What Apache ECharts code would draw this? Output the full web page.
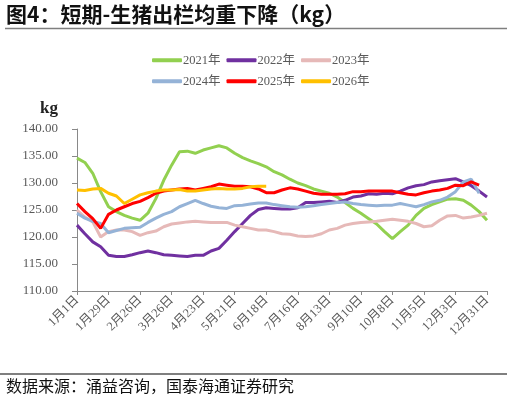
<!DOCTYPE html>
<html>
<head>
<meta charset="utf-8">
<script src="https://cdn.jsdelivr.net/npm/echarts@6/dist/echarts.min.js"></script>
<style>
  html, body { margin: 0; padding: 0; background: #fff; }
  #chart { width: 512px; height: 401px; }
</style>
</head>
<body>
<div id="chart"></div>
<script>
// weekly dates, Jan 1 .. Dec 31
const weeks = [
  '1月1日', '1月8日', '1月15日', '1月22日', '1月29日', '2月5日', '2月12日', '2月19日', '2月26日',
  '3月5日', '3月12日', '3月19日', '3月26日', '4月2日', '4月9日', '4月16日', '4月23日', '4月30日',
  '5月7日', '5月14日', '5月21日', '5月28日', '6月4日', '6月11日', '6月18日', '6月25日',
  '7月2日', '7月9日', '7月16日', '7月23日', '7月30日', '8月6日', '8月13日', '8月20日', '8月27日',
  '9月3日', '9月10日', '9月17日', '9月24日', '10月1日', '10月8日', '10月15日', '10月22日', '10月29日',
  '11月5日', '11月12日', '11月19日', '11月26日', '12月3日', '12月10日', '12月17日', '12月24日', '12月31日'
];

const w2021 = [134.6, 133.8, 131.8, 128.4, 125.6, 124.7, 124.0, 123.5, 123.1, 124.4, 127.1, 130.5, 133.3,
  135.8, 135.9, 135.5, 136.1, 136.5, 136.9, 136.5, 135.5, 134.7, 134.1, 133.6, 133.0, 132.1,
  131.5, 130.7, 130.0, 129.5, 128.9, 128.5, 128.1, 127.4, 126.4, 125.3, 124.4, 123.4, 122.4,
  121.0, 119.7, 121.0, 122.2, 124.0, 125.3, 126.0, 126.5, 127.0, 127.1, 126.8, 125.9, 124.7, 123.1];
const w2022 = [122.2, 120.6, 119.1, 118.2, 116.6, 116.4, 116.4, 116.7, 117.1, 117.4, 117.1, 116.7, 116.6,
  116.5, 116.4, 116.6, 116.6, 117.4, 117.9, 119.4, 121.0, 122.5, 124.0, 125.1, 125.4, 125.3,
  125.2, 125.2, 125.4, 126.4, 126.4, 126.5, 126.6, 126.4, 126.8, 127.4, 127.6, 128.0, 127.9,
  128.1, 128.0, 128.5, 129.1, 129.5, 129.7, 130.2, 130.4, 130.6, 130.8, 130.2, 129.5, 128.5, 127.4];
const w2023 = [125.0, 123.7, 122.8, 120.0, 121.0, 121.3, 121.3, 121.0, 120.3, 120.8, 121.1, 121.9, 122.4,
  122.6, 122.8, 122.9, 122.8, 122.7, 122.7, 122.7, 122.2, 121.9, 121.6, 121.3, 121.3, 121.0,
  120.6, 120.5, 120.2, 120.1, 120.2, 120.6, 121.3, 121.6, 122.2, 122.5, 122.7, 122.8, 122.9,
  123.1, 123.3, 123.1, 122.9, 122.5, 121.9, 122.1, 123.1, 123.9, 124.0, 123.5, 123.7, 124.0, 124.4];
const w2024 = [124.4, 123.5, 122.9, 122.5, 120.8, 121.2, 121.6, 121.7, 121.8, 122.7, 123.5, 124.2, 124.7,
  125.6, 126.2, 126.8, 126.2, 125.7, 125.4, 125.3, 125.8, 125.9, 126.1, 126.3, 126.3, 126.0,
  125.8, 125.6, 125.5, 125.6, 125.8, 126.0, 126.2, 126.4, 126.5, 126.2, 126.0, 125.9, 125.8,
  125.9, 125.9, 126.2, 125.9, 125.6, 126.0, 126.5, 126.8, 127.4, 128.4, 130.2, 130.7, 128.1];
const w2025 = [126.2, 124.7, 123.4, 121.6, 124.2, 125.0, 125.6, 126.2, 126.6, 127.3, 128.1, 128.5, 128.7,
  128.9, 129.0, 128.7, 129.0, 129.3, 129.8, 129.6, 129.4, 129.4, 129.3, 128.9, 128.2, 128.2,
  128.7, 129.1, 128.9, 128.5, 128.1, 127.9, 127.9, 127.9, 128.0, 128.4, 128.4, 128.5, 128.5,
  128.5, 128.5, 128.2, 127.9, 127.8, 128.2, 128.5, 128.7, 129.0, 129.6, 129.5, 130.2, 129.6];
const w2026 = [128.7, 128.6, 128.9, 129.0, 128.1, 127.6, 126.2, 127.0, 127.8, 128.2, 128.5, 128.7, 128.7,
  128.8, 128.5, 128.5, 128.7, 128.9, 129.0, 128.9, 128.9, 129.0, 129.3, 129.4, 129.4];

const seriesNames = ['2021年', '2022年', '2023年', '2024年', '2025年', '2026年'];
const seriesData = [w2021, w2022, w2023, w2024, w2025, w2026];
const colors = ['#92D050', '#7030A0', '#E6B9B8', '#95B3D7', '#FF0000', '#FFC000'];

const FONT = '"Liberation Serif", "Noto Sans CJK SC", serif';
const GREY = '#595959';

const chart = echarts.init(document.getElementById('chart'), null, { renderer: 'canvas' });

const legendBase = {
  left: 152,
  icon: 'roundRect',
  itemWidth: 30,
  itemHeight: 4,
  itemGap: 6,
  padding: 0,
  textStyle: { fontFamily: FONT, fontSize: 12.5, color: GREY, padding: [0, 0, 0, -4] }
};

chart.setOption({
  animation: false,
  color: colors,
  title: {
    text: '图4：短期-生猪出栏均重下降（kg）',
    left: 6,
    top: 4,
    padding: 0,
    textStyle: { fontFamily: '"Noto Sans CJK SC", sans-serif', fontSize: 21, fontWeight: 'bold', color: '#111' }
  },
  legend: [
    Object.assign({}, legendBase, { top: 54, data: seriesNames.slice(0, 3) }),
    Object.assign({}, legendBase, { top: 75, data: seriesNames.slice(3) })
  ],
  grid: { left: 77, right: 25, top: 129, bottom: 110 },
  xAxis: {
    type: 'category',
    boundaryGap: false,
    data: weeks,
    axisLine: { lineStyle: { color: '#898989', width: 1 } },
    axisTick: { interval: 3, length: 4, lineStyle: { color: '#898989' } },
    axisLabel: {
      interval: 3,
      rotate: 45,
      margin: 7,
      fontFamily: FONT,
      fontSize: 12.5,
      color: GREY
    },
    splitLine: { show: false }
  },
  yAxis: {
    type: 'value',
    min: 110,
    max: 140,
    interval: 5,
    name: 'kg',
    nameLocation: 'end',
    nameGap: 12,
    nameTextStyle: {
      fontFamily: '"Liberation Serif", serif',
      fontSize: 17,
      fontWeight: 'bold',
      color: '#222',
      align: 'right',
      padding: [0, 19, 0, 0]
    },
    axisLine: { show: true, lineStyle: { color: '#898989', width: 1 } },
    axisTick: { show: true, length: 5, lineStyle: { color: '#898989' } },
    axisLabel: {
      margin: 19,
      fontFamily: FONT,
      fontSize: 13,
      color: GREY,
      formatter: (v) => v.toFixed(2)
    },
    splitLine: { show: false }
  },
  series: seriesNames.map((name, i) => ({
    name,
    type: 'line',
    data: seriesData[i],
    symbol: 'none',
    smooth: false,
    lineStyle: { width: 3, color: colors[i] }
  })),
  graphic: [
    {
      type: 'line',
      shape: { x1: 5, y1: 28.5, x2: 507, y2: 28.5 },
      style: { stroke: '#7f7f7f', lineWidth: 1.5 }
    },
    {
      type: 'line',
      shape: { x1: 0, y1: 374, x2: 507, y2: 374 },
      style: { stroke: '#7f7f7f', lineWidth: 2 }
    },
    {
      type: 'text',
      left: 6,
      top: 378,
      style: {
        text: '数据来源：涌益咨询，国泰海通证券研究',
        font: '16px "Noto Sans CJK SC", sans-serif',
        fill: '#111'
      }
    }
  ]
});

window.addEventListener('resize', () => chart.resize());
</script>
</body>
</html>
